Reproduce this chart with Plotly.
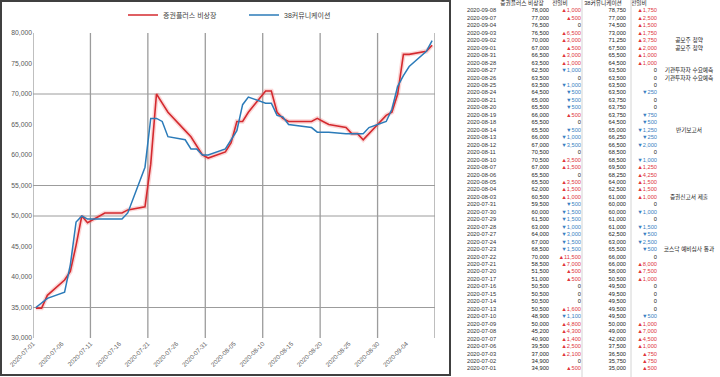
import plotly.graph_objects as go
import pandas as pd

# ---------------- data ----------------
DATES = [
    "2020-09-08", "2020-09-07", "2020-09-04", "2020-09-03", "2020-09-02", "2020-09-01",
    "2020-08-31", "2020-08-28", "2020-08-27", "2020-08-26", "2020-08-25", "2020-08-24",
    "2020-08-21", "2020-08-20", "2020-08-19", "2020-08-18", "2020-08-14", "2020-08-13",
    "2020-08-12", "2020-08-11", "2020-08-10", "2020-08-07", "2020-08-06", "2020-08-05",
    "2020-08-04", "2020-08-03", "2020-07-31", "2020-07-30", "2020-07-29", "2020-07-28",
    "2020-07-27", "2020-07-24", "2020-07-23", "2020-07-22", "2020-07-21", "2020-07-20",
    "2020-07-17", "2020-07-16", "2020-07-15", "2020-07-14", "2020-07-13", "2020-07-10",
    "2020-07-09", "2020-07-08", "2020-07-07", "2020-07-06", "2020-07-03", "2020-07-02",
    "2020-07-01",
]
RED_NAME = "증권플러스 비상장"
RED = [
    78000, 77000, 76500, 76500, 70000, 67000,
    66500, 63500, 62500, 63500, 63500, 64500,
    65000, 65500, 66000, 65500, 65500, 66000,
    67000, 70500, 70500, 67000, 65500, 65500,
    62000, 60500, 59500, 60000, 61500, 63000,
    64000, 67000, 68500, 70000, 58500, 51500,
    51000, 50500, 50500, 50500, 50500, 48900,
    50000, 45200, 40900, 39500, 37000, 34900,
    34900,
]
RED_PREV = 34400
BLUE_NAME = "38커뮤니케이션"
BLUE = [
    78750, 77000, 74500, 73000, 71250, 67500,
    65500, 64500, 63500, 63500, 63500, 63500,
    63750, 63750, 63750, 64500, 65000, 66250,
    66500, 68500, 68500, 69500, 68250, 64000,
    62500, 61000, 60000, 60000, 61000, 61000,
    62500, 63000, 65500, 66000, 66000, 58000,
    50500, 49500, 49500, 49500, 49500, 49500,
    50000, 49000, 42000, 37500, 36500, 35750,
    35000,
]
BLUE_PREV = 34500
NOTES = {
    "2020-09-02": "공모주 청약",
    "2020-09-01": "공모주 청약",
    "2020-08-27": "기관투자자 수요예측",
    "2020-08-26": "기관투자자 수요예측",
    "2020-08-14": "반기보고서",
    "2020-08-03": "증권신고서 제출",
    "2020-07-23": "코스닥 예비심사 통과",
}
TICK_DATES = [
    "2020-07-01", "2020-07-06", "2020-07-11", "2020-07-16", "2020-07-21",
    "2020-07-26", "2020-07-31", "2020-08-05", "2020-08-10", "2020-08-15",
    "2020-08-20", "2020-08-25", "2020-08-30", "2020-09-04",
]
HEADERS = ["증권플러스 비상장", "전일비", "38커뮤니케이션", "전일비"]
GRID_Y = [35000, 50000, 55000, 70000]

# ---------------- styling ----------------
W, H = 720, 377
FONT = "Liberation Sans, Arial, Noto Sans CJK KR, sans-serif"
RED_C = "#d42a2f"
BLUE_C = "#2b7bb9"
UP_C = "#e0363c"
DOWN_C = "#3b7fc2"
GRID_C = "#9c9c9c"
TSIZE = 5.7

x_dates = pd.to_datetime(DATES) + pd.Timedelta(hours=12)  # points sit mid-day


def changes(vals, prev):
    out = []
    for i, v in enumerate(vals):
        p = vals[i + 1] if i + 1 < len(vals) else prev
        out.append(v - p)
    return out


def fmt_change(d):
    if d > 0:
        return "▲{:,}".format(d), UP_C
    if d < 0:
        return "▼{:,}".format(-d), DOWN_C
    return "0", "#222222"


fig = go.Figure()

# chart lines
fig.add_trace(go.Scatter(x=x_dates, y=RED, mode="lines", showlegend=False, hoverinfo="skip",
                         line=dict(color="rgba(240,110,110,0.28)", width=4.5)))
fig.add_trace(go.Scatter(x=x_dates, y=RED, mode="lines", name=RED_NAME,
                         line=dict(color=RED_C, width=1.6)))
fig.add_trace(go.Scatter(x=x_dates, y=BLUE, mode="lines", name=BLUE_NAME,
                         line=dict(color=BLUE_C, width=1.5)))

# table (text on a hidden pixel-like axis)
n = len(DATES)
rows = list(range(1, n + 1))
red_ch = [fmt_change(d) for d in changes(RED, RED_PREV)]
blue_ch = [fmt_change(d) for d in changes(BLUE, BLUE_PREV)]


def table_col(xpos, texts, colors, pos, yrows=None):
    yy = yrows if yrows is not None else rows
    fig.add_trace(go.Scatter(
        x=[xpos] * len(texts), y=yy, text=texts, mode="text", textposition=pos,
        textfont=dict(family=FONT, size=TSIZE, color=colors), xaxis="x3", yaxis="y3",
        showlegend=False, hoverinfo="skip", cliponaxis=False))


table_col(467, DATES, ["#333333"] * n, "middle right")
table_col(549, ["{:,}".format(v) for v in RED], ["#222222"] * n, "middle left")
table_col(581, [t for t, c in red_ch], [c for t, c in red_ch], "middle left")
table_col(626, ["{:,}".format(v) for v in BLUE], ["#222222"] * n, "middle left")
table_col(657, [t for t, c in blue_ch], [c for t, c in blue_ch], "middle left")
note_rows = [DATES.index(d) + 1 for d in NOTES]
table_col(689, list(NOTES.values()), ["#222222"] * len(NOTES), "middle center", note_rows)
fig.add_trace(go.Scatter(
    x=[522, 560, 603, 639], y=[0, 0, 0, 0], text=HEADERS, mode="text",
    textposition="middle center", textfont=dict(family=FONT, size=TSIZE, color="#222222"),
    xaxis="x3", yaxis="y3", showlegend=False, hoverinfo="skip", cliponaxis=False))

# gridlines
shapes = []
for d in pd.date_range("2020-07-01", "2020-09-09", freq="10D"):
    shapes.append(dict(type="line", xref="x", yref="y", x0=d, x1=d, y0=30000, y1=80000,
                       line=dict(color=GRID_C, width=1.3), layer="below"))
for gy in GRID_Y:
    shapes.append(dict(type="line", xref="x", yref="y", x0="2020-07-01", x1="2020-09-09",
                       y0=gy, y1=gy, line=dict(color=GRID_C, width=1), layer="below"))
# panel border
shapes.append(dict(type="rect", xref="paper", yref="paper", x0=1 / W, x1=450 / W,
                   y0=1 - 375 / H, y1=1 - 1 / H, line=dict(color="#404040", width=2)))
# table column separators
for sx in [582, 631]:
    shapes.append(dict(type="line", xref="x3", yref="paper", x0=sx, x1=sx, y0=0, y1=1,
                       line=dict(color="#d4d4d4", width=1)))

plot_l, plot_r, plot_t, plot_b = 33, 435, 33, 338
row0, row_h = 3.5, 7.46

fig.update_layout(
    width=W, height=H, margin=dict(l=0, r=0, t=0, b=0, autoexpand=False),
    paper_bgcolor="white", plot_bgcolor="rgba(0,0,0,0)",
    font=dict(family=FONT, color="#595959"),
    shapes=shapes,
    legend=dict(orientation="h", x=123 / W, xanchor="left", y=1 - 15 / H, yanchor="middle",
                font=dict(size=7, color="#404040"), bgcolor="rgba(0,0,0,0)", itemwidth=30,
                entrywidth=76, entrywidthmode="pixels", tracegroupgap=0),
    xaxis=dict(type="date", domain=[plot_l / W, plot_r / W], automargin=False,
               range=["2020-07-01", "2020-09-09"],
               tickvals=TICK_DATES, ticktext=TICK_DATES, tickangle=-45,
               tickfont=dict(size=6.3, color="#595959"),
               showgrid=False, zeroline=False, showline=False, ticks=""),
    yaxis=dict(domain=[1 - plot_b / H, 1 - plot_t / H], range=[30000, 80000], dtick=5000,
               automargin=False,
               tickformat=",d", tickfont=dict(size=6.8, color="#595959"),
               showgrid=False, zeroline=False, showline=False, ticks=""),
    xaxis3=dict(domain=[455 / W, 1], range=[455, 720], visible=False, anchor="y3",
                automargin=False),
    yaxis3=dict(domain=[0, 1], range=[(H - row0) / row_h, -row0 / row_h],
                visible=False, anchor="x3", automargin=False),
)

fig.write_html("out.html", config={"displayModeBar": False},
               post_script="document.body.style.margin='0';document.body.style.padding='0';"
                           "document.body.style.overflow='hidden';")
